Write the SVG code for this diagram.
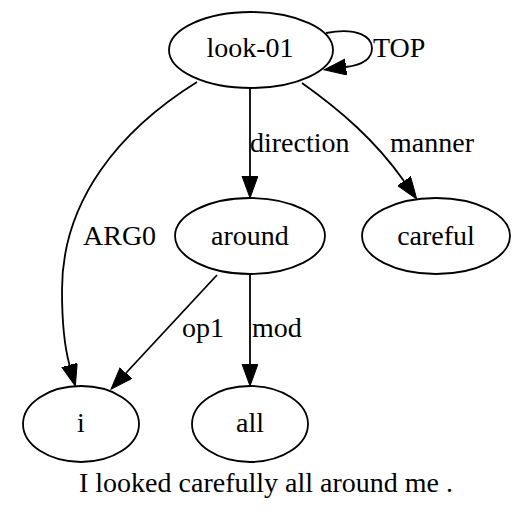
<svg xmlns="http://www.w3.org/2000/svg" width="527" height="517" viewBox="0 0 527 517">
<style>
.n ellipse{fill:#fff;stroke:#000;stroke-width:1.8}
text{font-family:"Liberation Serif","Times New Roman",serif;font-size:28px;fill:#000}
.c{text-anchor:middle}
.e path{fill:none;stroke:#000;stroke-width:1.8}
</style>
<defs>
<marker id="ah" markerUnits="userSpaceOnUse" markerWidth="24" markerHeight="18" refX="0" refY="8" orient="auto">
<path d="M0,0 L22,8 L0,16 z" fill="#000" stroke="#000" stroke-width="1"/>
</marker>
</defs>
<rect width="527" height="517" fill="#fff"/>
<g id="edges" class="e">
<path d="M326,33 C358,27 372,37 372,48 C372,59 362,65 346,67" marker-end="url(#ah)"/>
<path d="M250,88 L250,176" marker-end="url(#ah)"/>
<path d="M302,83 C340,110 375,140 404,181" marker-end="url(#ah)"/>
<path d="M197,82 C120,130 62,200 62,290 C62,320 64,345 69.5,365" marker-end="url(#ah)"/>
<path d="M217,275 L126,373" marker-end="url(#ah)"/>
<path d="M250,274 L250,364" marker-end="url(#ah)"/>
<text x="373" y="57">TOP</text>
<text x="250" y="152">direction</text>
<text x="390" y="152">manner</text>
<text x="83" y="245">ARG0</text>
<text x="182" y="337">op1</text>
<text x="252" y="337">mod</text>
</g>
<g id="look-01" class="n"><ellipse cx="251" cy="50" rx="82" ry="38"/><text class="c" x="250" y="57">look-01</text></g>
<g id="around" class="n"><ellipse cx="250" cy="236" rx="75" ry="38"/><text class="c" x="250" y="245">around</text></g>
<g id="careful" class="n"><ellipse cx="436" cy="236" rx="74" ry="38"/><text class="c" x="436" y="245">careful</text></g>
<g id="i" class="n"><ellipse cx="81" cy="424" rx="58" ry="38"/><text class="c" x="81" y="432">i</text></g>
<g id="all" class="n"><ellipse cx="250" cy="424" rx="58" ry="38"/><text class="c" x="250" y="432">all</text></g>
<text class="c" x="266" y="492">I looked carefully all around me .</text>
</svg>
